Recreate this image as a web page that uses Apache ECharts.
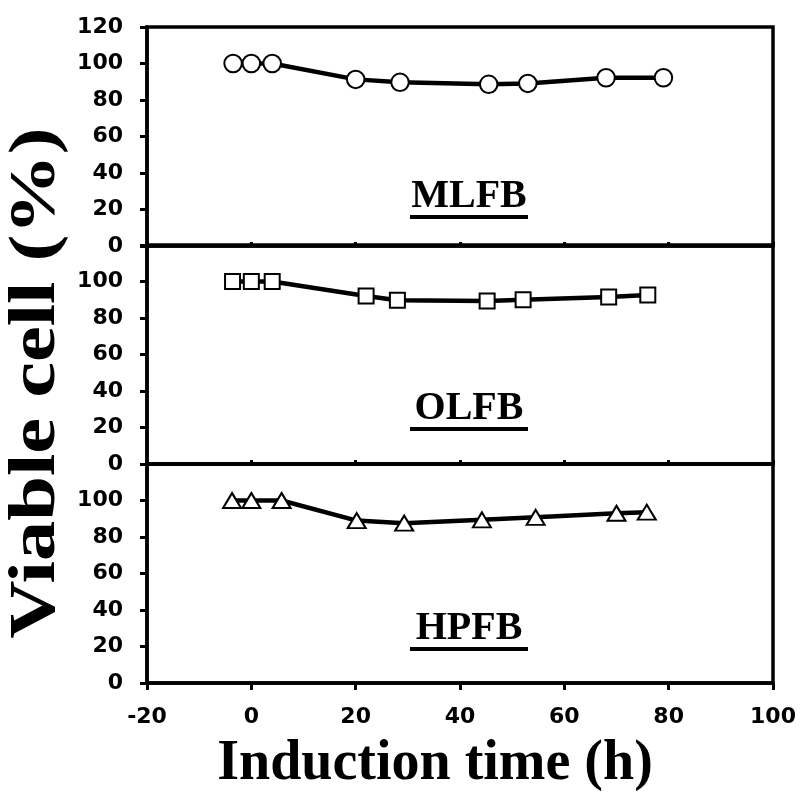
<!DOCTYPE html>
<html>
<head>
<meta charset="utf-8">
<script src="https://cdn.jsdelivr.net/npm/echarts@6/dist/echarts.min.js"></script>
<style>
  html, body { margin: 0; padding: 0; background: #fff; }
  #chart { width: 801px; height: 805px; }
</style>
</head>
<body>
<div id="chart"></div>
<script>
// Induction time (h) and viable cell (%) for each feeding strategy
const panelNames = ['MLFB', 'OLFB', 'HPFB'];
const timeMLFB = [-3.5, 0, 4, 20, 28.5, 45.5, 53, 68, 79];
const viableMLFB = [100, 100, 100, 91.3, 89.7, 88.6, 89.1, 92.2, 92.2];
const timeOLFB = [-3.6, 0, 4, 22, 28, 45.2, 52.1, 68.5, 76];
const viableOLFB = [100, 100, 100, 92.1, 89.7, 89.3, 90, 91.5, 92.6];
const timeHPFB = [-3.7, 0, 5.8, 20.2, 29.3, 44.2, 54.5, 70, 75.8];
const viableHPFB = [100, 100, 100, 89, 87.6, 89.4, 90.8, 93, 93.6];
const xTicks = [-20, 0, 20, 40, 60, 80, 100];
const yTicks = [0, 20, 40, 60, 80, 100, 120];

const times = [timeMLFB, timeOLFB, timeHPFB];
const viables = [viableMLFB, viableOLFB, viableHPFB];
const symbols = ['circle', 'rect', 'triangle'];
const symbolSizes = [17.5, 15, [18, 15]];

const panelTops = [27, 245, 464];
const panelHeight = 219;

const chart = echarts.init(document.getElementById('chart'), null, { renderer: 'canvas' });

const tickFont = { fontFamily: 'DejaVu Sans, sans-serif', fontWeight: 'bold', fontSize: 22, color: '#000' };

const grids = panelTops.map(t => ({
  left: 147, right: 28, top: t, height: panelHeight,
  show: true, borderColor: '#000', borderWidth: 3.5, backgroundColor: 'transparent'
}));

const xAxes = panelTops.map((t, i) => {
  const last = i === panelTops.length - 1;
  return {
    type: 'value', gridIndex: i,
    min: xTicks[0], max: xTicks[xTicks.length - 1], interval: 20,
    axisLine: { show: true, onZero: false, lineStyle: { color: '#000', width: 3.5 } },
    axisTick: { show: true, inside: !last, length: last ? 7 : 4, lineStyle: { color: '#000', width: 3 } },
    axisLabel: Object.assign({ show: last, margin: 23 }, tickFont),
    splitLine: { show: false }
  };
});

const yAxes = panelTops.map((t, i) => ({
  type: 'value', gridIndex: i,
  min: yTicks[0], max: yTicks[yTicks.length - 1], interval: 20,
  axisLine: { show: true, onZero: false, lineStyle: { color: '#000', width: 3.5 } },
  axisTick: { show: true, length: 7, lineStyle: { color: '#000', width: 3 } },
  axisLabel: Object.assign({
    margin: 24,
    formatter: v => (i > 0 && v === 120) ? '' : String(v)
  }, tickFont),
  splitLine: { show: false }
}));

const series = panelNames.map((name, i) => ({
  name: name, type: 'line', xAxisIndex: i, yAxisIndex: i,
  data: times[i].map((x, k) => [x, viables[i][k]]),
  symbol: symbols[i], symbolSize: symbolSizes[i],
  lineStyle: { color: '#000', width: 4.5 },
  itemStyle: { color: '#fff', borderColor: '#000', borderWidth: 2 },
  z: 3, animation: false
}));

// Underlined panel names
const serif = 'Liberation Serif, Times New Roman, serif';
const labelY = [197, 409, 629];
const graphics = [];
panelNames.forEach((name, i) => {
  graphics.push({
    type: 'text',
    style: { text: name, x: 469, y: labelY[i], align: 'center', verticalAlign: 'middle',
             font: 'bold 40px ' + serif, fill: '#000' }
  });
  graphics.push({
    type: 'rect',
    shape: { x: 410, y: labelY[i] + 18, width: 118, height: 4 },
    style: { fill: '#000' }
  });
});
// Axis titles
graphics.push({
  type: 'text',
  style: { text: 'Induction time (h)', x: 435, y: 765, align: 'center', verticalAlign: 'middle',
           font: 'bold 56px ' + serif, fill: '#000' }
});
graphics.push({
  type: 'text', x: 37, y: 383, rotation: Math.PI / 2, scaleX: 1.22,
  style: { text: 'Viable cell (%)', x: 0, y: 0, align: 'center', verticalAlign: 'middle',
           font: 'bold 66px ' + serif, fill: '#000' }
});

chart.setOption({
  backgroundColor: '#fff',
  animation: false,
  grid: grids,
  xAxis: xAxes,
  yAxis: yAxes,
  series: series,
  graphic: graphics
});
</script>
</body>
</html>
